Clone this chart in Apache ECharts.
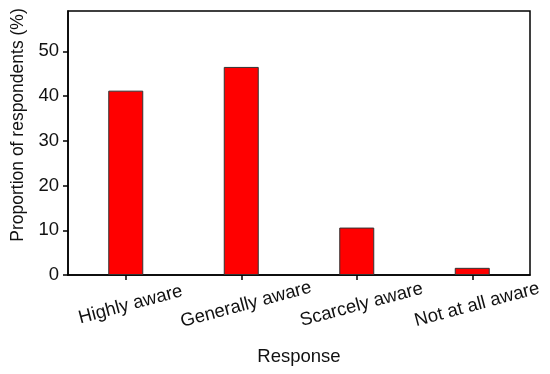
<!DOCTYPE html>
<html><head><meta charset="utf-8">
<script src="https://cdn.jsdelivr.net/npm/echarts@6/dist/echarts.min.js"></script>
<style>html,body{margin:0;padding:0;background:#fff}#c{width:550px;height:374px}</style>
</head><body><div id="c"></div>
<script>
var categories = ['Highly aware', 'Generally aware', 'Scarcely aware', 'Not at all aware'];
var values = [41.2, 46.5, 10.6, 1.6];
var yTicks = [0, 10, 20, 30, 40, 50];

var chart = echarts.init(document.getElementById('c'));
var font = 'Liberation Sans, Arial, sans-serif';
chart.setOption({
  animation: false,
  grid: { left: 68, right: 20, top: 11, bottom: 99, outerBoundsMode: 'none', containLabel: false, show: true, borderColor: '#000', borderWidth: 1.5, backgroundColor: 'transparent' },
  xAxis: {
    type: 'category', data: categories, boundaryGap: true,
    name: 'Response', nameLocation: 'middle', nameGap: 72,
    nameTextStyle: { fontFamily: font, fontSize: 18.5, color: '#111' },
    axisLine: { lineStyle: { color: '#000', width: 1.5 } },
    axisTick: { show: true, alignWithLabel: true, length: 5, lineStyle: { color: '#000', width: 1.5 } },
    axisLabel: { rotate: 15, align: 'center', verticalAlign: 'middle', margin: 31, padding: [0, 0, 0, 10], fontFamily: font, fontSize: 18.5, color: '#111' }
  },
  yAxis: {
    type: 'value', min: 0, max: 59, interval: 10,
    name: 'Proportion of respondents (%)', nameLocation: 'middle', nameGap: 40,
    nameTextStyle: { fontFamily: font, fontSize: 17.5, color: '#111', padding: [0, 0, 0, 36] },
    splitLine: { show: false },
    axisLine: { show: true, lineStyle: { color: '#000', width: 1.5 } },
    axisTick: { show: true, length: 5, customValues: yTicks, lineStyle: { color: '#000', width: 1.5 } },
    axisLabel: { fontFamily: font, fontSize: 18.5, color: '#111', margin: 9, customValues: yTicks }
  },
  series: [{
    type: 'bar', data: values, barWidth: 35,
    itemStyle: { color: '#ff0000', borderColor: '#333', borderWidth: 1 }
  }]
});
</script></body></html>
